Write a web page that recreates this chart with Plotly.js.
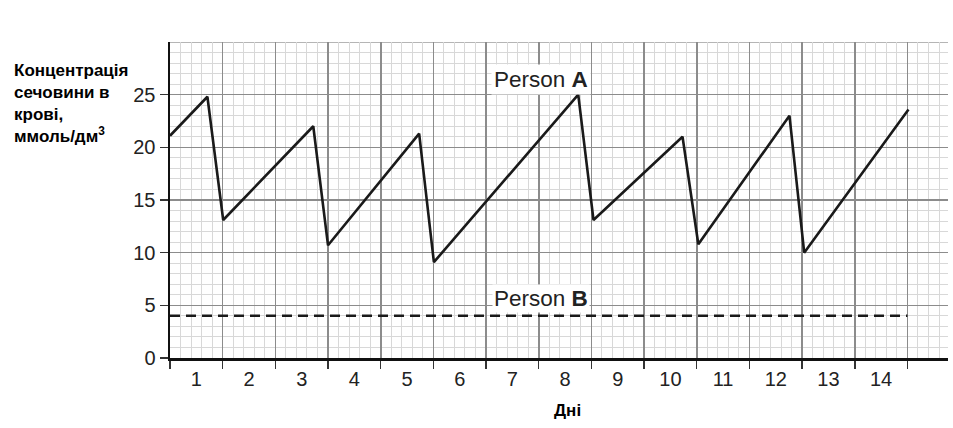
<!DOCTYPE html>
<html>
<head>
<meta charset="utf-8">
<script src="https://cdn.plot.ly/plotly-3.0.1.min.js"></script>
<style>html,body{margin:0;padding:0;background:#fff;}#chart{width:953px;height:428px;}</style>
</head>
<body>
<div id="chart"></div>
<script>
// Data
const daysA = [0, 0.71, 1.01, 2.72, 3.0, 4.73, 5.01, 7.75, 8.04, 9.73, 10.03, 11.76, 12.04, 14.02];
const concA = [21.1, 24.8, 13.1, 22.0, 10.7, 21.3, 9.1, 25.0, 13.1, 21.0, 10.8, 23.0, 10.0, 23.6];
const daysB = [0, 14];
const concB = [4, 4];
const dayLabelPos = [0.5,1.5,2.5,3.5,4.5,5.5,6.5,7.5,8.5,9.5,10.5,11.5,12.5,13.5];
const dayLabels = ['1','2','3','4','5','6','7','8','9','10','11','12','13','14'];
const yTicks = [0, 5, 10, 15, 20, 25];
const yTitle = 'Концентрація<br>сечовини в<br>крові,<br>ммоль/дм<sup>3</sup>';
const xTitle = 'Дні';
const labelA = 'Person <b>A</b>';
const labelB = 'Person <b>B</b>';

const FONT = 'Arial, "Liberation Sans", sans-serif';
const XR = [0, 14.77];

// minor grid positions every 0.2 day, skipping whole days (those carry the major grid)
const minorX = [];
for (let i = 1; i < 74; i++) { if (i % 5 !== 0) minorX.push(i / 5); }

const traces = [
  {x: daysA, y: concA, type: 'scatter', mode: 'lines', xaxis: 'x', yaxis: 'y',
   line: {color: '#1a1a1a', width: 2.6}, hoverinfo: 'skip', showlegend: false},
  {x: daysB, y: concB, type: 'scatter', mode: 'lines', xaxis: 'x2', yaxis: 'y',
   line: {color: '#1a1a1a', width: 2.5, dash: '10px,6px'}, hoverinfo: 'skip', showlegend: false}
];

const layout = {
  width: 953, height: 428,
  margin: {l: 170, r: 5, t: 42, b: 70},
  paper_bgcolor: '#fff', plot_bgcolor: '#fff',
  font: {family: FONT, color: '#222'},
  showlegend: false,
  xaxis: {
    range: XR, tick0: 0, dtick: 1, tickmode: 'linear',
    ticks: 'outside', ticklen: 8, tickwidth: 1.5, tickcolor: '#333',
    showticklabels: false,
    showgrid: true, gridcolor: '#8c8c8c', gridwidth: 1.6,
    minor: {tickmode: 'array', tickvals: minorX, showgrid: true, gridcolor: '#d8d8d8', gridwidth: 1, ticks: ''},
    showline: true, linecolor: '#111', linewidth: 2.5,
    zeroline: false, fixedrange: true
  },
  xaxis2: {
    range: XR, overlaying: 'x', anchor: 'y', side: 'bottom',
    tickmode: 'array', tickvals: dayLabelPos, ticktext: dayLabels,
    ticks: 'outside', ticklen: 3, tickcolor: 'rgba(0,0,0,0)',
    tickfont: {family: FONT, size: 20, color: '#222'},
    showgrid: false, showline: false, zeroline: false, fixedrange: true
  },
  yaxis: {
    range: [0, 30], tickmode: 'array', tickvals: yTicks,
    ticks: 'outside', ticklen: 8, tickwidth: 1.5, tickcolor: '#333',
    tickfont: {family: FONT, size: 20, color: '#222'},
    showgrid: true, gridcolor: '#8c8c8c', gridwidth: 1.6,
    minor: {dtick: 1, tick0: 0, showgrid: true, gridcolor: '#d8d8d8', gridwidth: 1, ticks: ''},
    showline: true, linecolor: '#111', linewidth: 2.5,
    zeroline: false, fixedrange: true
  },
  shapes: [
    {type: 'line', xref: 'paper', yref: 'y', x0: 0, x1: 1, y0: 30, y1: 30,
     line: {color: '#9c9c9c', width: 1.5}, layer: 'below'}
  ],
  annotations: [
    {text: yTitle, xref: 'paper', yref: 'paper', x: -0.2025, y: 0.945,
     xanchor: 'left', yanchor: 'top', align: 'left', showarrow: false,
     font: {family: FONT, size: 17, color: '#000', weight: 'bold'}},
    {text: '<b>' + xTitle + '</b>', xref: 'x', yref: 'paper', x: 7.54, y: -0.165,
     xanchor: 'center', yanchor: 'middle', showarrow: false,
     font: {family: FONT, size: 17, color: '#000'}},
    {text: labelA, xref: 'x', yref: 'y', x: 7.04, y: 26.4,
     xanchor: 'center', yanchor: 'middle', showarrow: false,
     bgcolor: '#fff', borderpad: 2,
     font: {family: FONT, size: 22.5, color: '#222'}},
    {text: labelB, xref: 'x', yref: 'y', x: 7.04, y: 5.65,
     xanchor: 'center', yanchor: 'middle', showarrow: false,
     bgcolor: '#fff', borderpad: 1,
     font: {family: FONT, size: 22.5, color: '#222'}}
  ]
};

Plotly.newPlot('chart', traces, layout, {staticPlot: true, displayModeBar: false});
</script>
</body>
</html>
